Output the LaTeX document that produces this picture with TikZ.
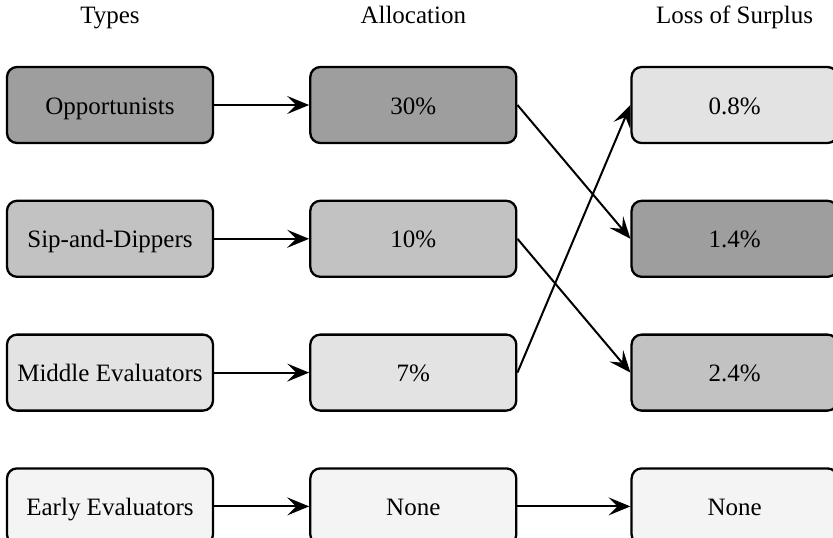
\documentclass[tikz,border=0pt]{standalone}
\usepackage{fontspec}
\setmainfont{Liberation Serif}
\usetikzlibrary{arrows.meta,matrix}

\definecolor{darkgrid}{gray}{0.62}
\definecolor{midgrid}{gray}{0.76}
\definecolor{lightgrid}{gray}{0.89}
\definecolor{palegrid}{gray}{0.955}

\begin{document}
\begin{tikzpicture}[x=1pt,y=1pt,
box/.style={draw,line width=2.3pt,rounded corners=10pt,
  minimum width=206pt,minimum height=76pt,inner sep=0pt,
  text height=18pt,text depth=0pt,
  font=\fontsize{25}{29}\selectfont},
head/.style={minimum width=206pt,minimum height=76pt,inner sep=0pt,
  text height=18pt,text depth=0pt,
  font=\fontsize{25}{29}\selectfont},
dark/.style={box,fill=darkgrid},
mid/.style={box,fill=midgrid},
light/.style={box,fill=lightgrid},
pale/.style={box,fill=palegrid},
arr/.style={line width=2pt,-{Stealth[length=22pt,width=18pt,inset=9pt]}}]
\useasboundingbox (0,0) rectangle (833,-538);
\matrix[matrix anchor=t1.center,column sep=95pt,row sep=55.5pt] at (110,-105)
{
\node [head] (h1) {Types};               & \node [head] (h2) {Allocation}; &[18pt] \node [head] (h3) {Loss of Surplus}; \\[-42.5pt]
\node [dark] (t1) {Opportunists};        & \node [dark] (a1) {30\%};        & \node [light] (l1) {0.8\%}; \\
\node [mid] (t2) {Sip-and-Dippers};      & \node [mid] (a2) {10\%};         & \node [dark] (l2) {1.4\%}; \\
\node [light] (t3) {Middle Evaluators};  & \node [light] (a3) {7\%};        & \node [mid] (l3) {2.4\%}; \\
\node [pale] (t4) {Early Evaluators};    & \node [pale] (a4) {None};        & \node [pale] (l4) {None}; \\
};
\draw[arr] (t1) -- (a1);
\draw[arr] (t2) -- (a2);
\draw[arr] (t3) -- (a3);
\draw[arr] (t4) -- (a4);
\draw[arr] (a1.east) -- (l2.west);
\draw[arr] (a2.east) -- (l3.west);
\draw[arr] (a3.east) -- (l1.west);
\draw[arr] (a4) -- (l4);
\end{tikzpicture}
\end{document}
